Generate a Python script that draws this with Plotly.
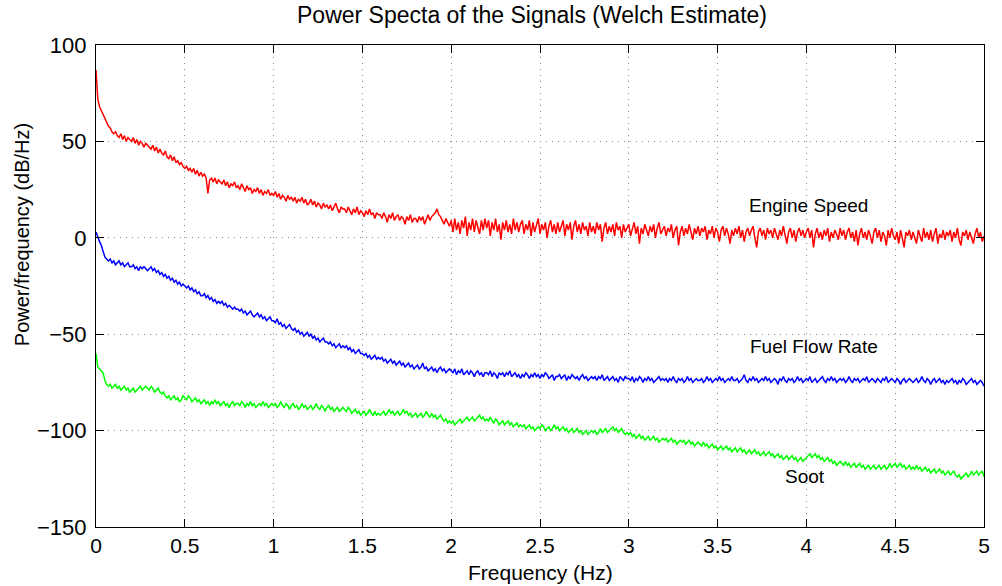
import numpy as np
import plotly.graph_objects as go

# Frequency axis (Hz), 0.01 Hz resolution
freq = np.round(np.arange(0, 501) * 0.01, 2)

engine_speed = [
    87,72,68,66,64,62,60,58,57,55, 54,55,53,52,54,51,53,50,52,51,
    50,52,49,51,48,50,49,47,49,48, 47,46,48,45,47,44,46,44,43,45,
    42,41,43,40,42,39,40,38,39,37, 36,37,35,36,34,36,33,35,32,34,
    32,33,31,23,30,31,29,31,28,30, 29,28,30,27,29,26,28,27,29,26,
    27,25,28,26,24,27,25,26,23,25, 24,26,23,25,22,24,23,25,22,23,
    22,24,21,23,20,22,21,19,22,20, 21,19,21,18,20,19,21,18,20,17,
    18,20,17,19,16,18,17,15,18,16, 17,15,17,14,16,18,15,13,16,15,
    15,13,16,14,12,15,13,16,12,14, 13,11,14,12,15,12,13,10,13,12,
    12,10,13,11,8,12,10,13,9,11, 12,9,11,10,7,11,9,12,8,10,
    10,8,11,9,11,7,10,12,9,11, 12,13,15,12,11,9,7,10,8,6,
    9,3,10,4,8,2,9,5,11,1, 8,4,10,3,9,6,2,9,4,10,
    5,9,1,8,4,10,3,7,-1,8, 4,9,3,7,2,10,4,8,3,7,
    9,2,7,4,9,1,8,3,6,10, 2,7,4,8,0,6,9,3,7,2,
    8,3,6,9,1,7,4,8,-1,6, 9,3,7,2,8,4,6,1,8,3,
    6,2,8,4,7,-2,5,8,2,6, 3,7,1,8,4,6,0,7,3,5,
    7,1,5,8,2,6,-3,5,2,7, 4,1,6,3,7,0,5,8,2,4,
    6,1,5,3,7,0,4,6,-4,3, 6,1,5,2,7,3,-1,5,2,6,
    1,5,3,6,-1,4,2,6,0,5, 3,-2,4,6,1,5,2,-3,4,1,
    5,2,6,0,4,-2,3,5,1,4, 6,0,-5,3,5,1,4,-1,5,2,
    4,0,5,2,-1,4,1,6,2,-3, 3,5,0,4,-2,3,5,1,4,0,
    3,5,0,4,-5,2,5,0,3,-1, 4,1,5,-2,3,0,4,2,-1,5,
    1,4,-1,3,5,0,3,-2,4,-4, 2,5,0,3,-1,4,1,-3,3,5,
    0,4,-2,3,1,-4,4,0,5,1, -1,3,-3,4,0,-5,3,1,4,-1,
    3,0,-3,4,1,-2,5,0,3,-1, 4,-2,2,5,-3,2,0,4,-1,3,
    1,4,-2,3,0,5,-1,-4,3,1, 4,-1,3,0,-3,2,5,0,3,-2,
    1,
]

fuel_flow_rate = [
    3,0,-2,-4,-7,-10,-11,-12,-11,-13, -12,-14,-13,-12,-14,-13,-15,-14,-13,-15,
    -15,-14,-16,-15,-17,-15,-16,-15,-16,-17, -16,-15,-17,-16,-18,-17,-19,-18,-20,-19,
    -21,-20,-22,-21,-23,-22,-24,-23,-25,-24, -25,-26,-25,-27,-26,-28,-27,-29,-28,-30,
    -30,-29,-31,-30,-32,-31,-33,-32,-34,-33, -34,-33,-35,-34,-36,-35,-36,-37,-36,-37,
    -37,-38,-37,-39,-38,-40,-39,-38,-40,-41, -40,-39,-41,-40,-42,-41,-43,-42,-41,-43,
    -43,-44,-42,-45,-44,-46,-45,-47,-46,-45, -47,-48,-47,-49,-48,-50,-49,-51,-50,-49,
    -51,-50,-52,-51,-53,-52,-54,-53,-52,-54, -54,-55,-54,-56,-55,-57,-56,-55,-57,-56,
    -57,-56,-58,-57,-59,-58,-60,-59,-58,-60, -60,-61,-60,-62,-61,-63,-62,-61,-63,-62,
    -63,-62,-64,-63,-65,-64,-63,-65,-64,-66, -65,-64,-66,-65,-67,-66,-65,-67,-66,-68,
    -67,-66,-68,-67,-65,-68,-67,-69,-68,-67, -69,-68,-70,-68,-67,-69,-68,-70,-69,-68,
    -69,-70,-68,-71,-69,-70,-68,-71,-70,-69, -71,-69,-70,-72,-70,-69,-71,-70,-72,-70,
    -70,-71,-69,-72,-70,-71,-73,-70,-71,-70, -72,-70,-71,-69,-72,-71,-70,-72,-71,-73,
    -71,-72,-70,-71,-73,-71,-72,-70,-72,-71, -73,-71,-72,-70,-71,-73,-72,-71,-74,-72,
    -72,-71,-73,-72,-71,-74,-72,-73,-71,-72, -73,-72,-74,-72,-71,-73,-72,-74,-73,-72,
    -73,-72,-74,-72,-73,-71,-74,-73,-72,-74, -73,-72,-74,-73,-75,-72,-73,-74,-72,-73,
    -73,-74,-72,-75,-73,-74,-72,-73,-75,-73, -74,-72,-74,-73,-75,-74,-73,-72,-74,-73,
    -74,-73,-75,-73,-74,-72,-74,-75,-73,-74, -73,-75,-74,-72,-74,-73,-75,-74,-73,-74,
    -74,-73,-75,-74,-72,-74,-73,-75,-74,-73, -74,-72,-74,-73,-75,-74,-73,-74,-72,-74,
    -74,-73,-75,-74,-73,-71,-74,-75,-73,-74, -72,-74,-73,-75,-74,-73,-74,-72,-74,-73,
    -75,-74,-73,-74,-76,-73,-74,-72,-74,-75, -73,-74,-73,-75,-74,-72,-74,-73,-75,-74,
    -73,-74,-72,-75,-74,-73,-75,-74,-73,-72, -74,-75,-73,-74,-72,-74,-73,-75,-74,-73,
    -74,-73,-75,-74,-72,-74,-75,-73,-74,-73, -75,-74,-73,-74,-72,-75,-74,-73,-74,-75,
    -73,-74,-75,-73,-74,-72,-75,-74,-73,-74, -75,-73,-74,-76,-74,-73,-75,-74,-73,-74,
    -75,-74,-73,-75,-74,-72,-74,-75,-73,-74, -76,-74,-73,-75,-74,-73,-75,-74,-76,-74,
    -75,-74,-73,-75,-74,-76,-74,-75,-73,-74, -76,-75,-74,-73,-75,-74,-76,-75,-74,-75,
    -77,
]

soot = [
    -60,-67,-68,-69,-70,-74,-76,-77,-76,-78, -77,-76,-78,-77,-79,-78,-77,-79,-78,-80,
    -79,-78,-80,-79,-78,-77,-79,-78,-77,-78, -79,-77,-78,-80,-79,-78,-80,-81,-80,-82,
    -83,-82,-84,-83,-82,-84,-83,-85,-84,-82, -83,-84,-82,-83,-85,-84,-83,-85,-84,-86,
    -85,-84,-86,-85,-87,-85,-86,-84,-86,-85, -87,-86,-85,-87,-86,-88,-86,-85,-87,-86,
    -86,-87,-85,-86,-88,-86,-87,-85,-87,-86, -88,-87,-86,-87,-85,-87,-86,-88,-87,-86,
    -87,-86,-88,-87,-85,-87,-88,-86,-87,-89, -87,-86,-88,-87,-89,-88,-86,-88,-87,-89,
    -88,-87,-89,-88,-86,-88,-89,-87,-88,-90, -88,-87,-89,-88,-90,-89,-88,-90,-89,-88,
    -89,-90,-88,-89,-91,-90,-89,-91,-90,-92, -91,-90,-92,-91,-89,-91,-92,-90,-92,-91,
    -92,-91,-90,-92,-91,-89,-91,-90,-92,-91, -90,-92,-91,-89,-91,-90,-92,-91,-93,-92,
    -91,-93,-92,-91,-93,-92,-90,-92,-93,-91, -93,-92,-94,-93,-92,-94,-95,-94,-96,-95,
    -96,-95,-97,-96,-95,-94,-96,-95,-94,-93, -95,-94,-93,-95,-94,-93,-92,-94,-93,-95,
    -94,-95,-93,-95,-96,-94,-95,-97,-96,-95, -97,-96,-95,-97,-96,-98,-97,-96,-98,-97,
    -98,-97,-99,-98,-97,-99,-98,-100,-99,-98, -99,-97,-98,-100,-99,-98,-100,-99,-97,-99,
    -98,-100,-99,-98,-100,-99,-101,-100,-99,-101, -100,-99,-101,-100,-102,-101,-100,-102,-101,-100,
    -101,-100,-102,-101,-99,-101,-100,-99,-101,-100, -99,-98,-100,-99,-101,-100,-99,-101,-102,-101,
    -102,-101,-103,-102,-104,-103,-102,-104,-103,-105, -104,-103,-105,-104,-103,-105,-104,-106,-105,-104,
    -105,-104,-106,-105,-104,-106,-105,-107,-106,-105, -106,-105,-107,-106,-105,-107,-106,-108,-107,-106,
    -107,-108,-106,-108,-107,-109,-108,-107,-109,-108, -110,-109,-108,-110,-109,-108,-110,-109,-111,-110,
    -109,-111,-110,-109,-111,-110,-112,-111,-110,-112, -111,-110,-112,-111,-113,-112,-111,-113,-112,-111,
    -113,-112,-114,-113,-112,-114,-113,-115,-114,-113, -115,-114,-113,-115,-114,-116,-115,-114,-116,-115,
    -114,-113,-112,-114,-113,-112,-114,-113,-115,-114, -116,-115,-114,-116,-115,-117,-116,-118,-117,-116,
    -117,-118,-116,-118,-117,-119,-118,-117,-119,-118, -117,-119,-118,-120,-119,-118,-120,-119,-118,-120,
    -119,-118,-120,-119,-118,-120,-119,-117,-119,-118, -117,-119,-118,-117,-119,-118,-120,-119,-118,-120,
    -119,-120,-118,-120,-119,-121,-120,-119,-121,-120, -122,-121,-120,-122,-121,-120,-122,-121,-123,-122,
    -121,-123,-122,-121,-123,-124,-123,-125,-124,-123, -122,-124,-123,-121,-123,-122,-121,-123,-122,-121,
    -124,
]

x_ticks = [0, 0.5, 1, 1.5, 2, 2.5, 3, 3.5, 4, 4.5, 5]
x_tick_labels = ["0", "0.5", "1", "1.5", "2", "2.5", "3", "3.5", "4", "4.5", "5"]
y_ticks = [-150, -100, -50, 0, 50, 100]
y_tick_labels = ["\u2212150", "\u2212100", "\u221250", "0", "50", "100"]

labels = ["Engine Speed", "Fuel Flow Rate", "Soot"]
label_x = [4.01, 4.04, 3.99]
label_y = [17, -56.5, -124]

FONT = "Liberation Sans, Arial, Helvetica, sans-serif"

fig = go.Figure()
for vals, color, name in [(engine_speed, "#ff0000", labels[0]),
                          (fuel_flow_rate, "#0000ff", labels[1]),
                          (soot, "#00ff00", labels[2])]:
    fig.add_trace(go.Scatter(x=freq, y=vals, mode="lines", name=name,
                             line=dict(color=color, width=1.5),
                             showlegend=False))

for t, lx, ly in zip(labels, label_x, label_y):
    fig.add_annotation(x=lx, y=ly, xref="x", yref="y", text=t, showarrow=False,
                       font=dict(size=19, color="black", family=FONT),
                       xanchor="center", yanchor="middle")

fig.add_annotation(x=0.491, y=1.062, xref="paper", yref="paper",
                   text="Power Specta of the Signals (Welch Estimate)",
                   showarrow=False, xanchor="center", yanchor="middle",
                   font=dict(size=23, color="black", family=FONT))
fig.add_annotation(x=0.5, y=-0.094, xref="paper", yref="paper",
                   text="Frequency (Hz)", showarrow=False,
                   xanchor="center", yanchor="middle",
                   font=dict(size=21, color="black", family=FONT))
fig.add_annotation(x=-0.083, y=0.606, xref="paper", yref="paper",
                   text="Power/frequency (dB/Hz)", showarrow=False,
                   textangle=-90, xanchor="center", yanchor="middle",
                   font=dict(size=20, color="black", family=FONT))

axis_common = dict(
    showline=True, linecolor="black", linewidth=1.2, mirror="ticks",
    ticks="inside", ticklen=8, tickcolor="black", tickwidth=1,
    showgrid=True, gridcolor="#8a8a8a", griddash="1px,5px", gridwidth=1,
    zeroline=False,
)

fig.update_xaxes(range=[0, 5], tickmode="array", tickvals=x_ticks,
                 ticktext=x_tick_labels, ticklabelstandoff=0,
                 tickfont=dict(size=21, color="black", family=FONT), **axis_common)
fig.update_yaxes(range=[-150, 100], tickmode="array", tickvals=y_ticks,
                 ticktext=y_tick_labels, ticklabelstandoff=4,
                 tickfont=dict(size=22, color="black", family=FONT), **axis_common)

fig.update_layout(
    width=1002, height=586,
    margin=dict(l=96, r=12, t=45, b=59),
    paper_bgcolor="white", plot_bgcolor="white",
    font=dict(family=FONT, color="black"),
)

fig.write_html("out.html")
